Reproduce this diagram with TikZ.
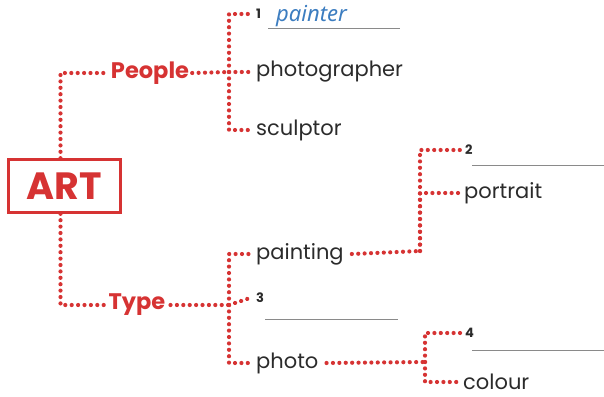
\documentclass[tikz,border=0pt]{standalone}
\usepackage{fontspec}
\usetikzlibrary{decorations.markings}
\setmainfont{Poppins}
\newfontfamily\handfont{Noto Sans}
\definecolor{artred}{HTML}{D63333}
\definecolor{txtgray}{HTML}{2B2B2B}
\definecolor{penblue}{HTML}{3C7DC0}
\definecolor{rulegray}{HTML}{8A8A8A}
\begin{document}
\begin{tikzpicture}[x=1pt,y=-1pt,
  dots/.style={decorate, decoration={markings,
     mark=between positions 0 and 1 step 6.4pt with {\fill[artred] (0,0) circle (2.1pt);}}},
  leaf/.style={anchor=west, inner sep=0pt, text=txtgray, font=\fontsize{21}{24}\selectfont},
  branch/.style={inner sep=0pt, text=artred, font=\fontsize{22.5}{26}\selectfont\bfseries},
  num/.style={anchor=west, inner sep=0pt, text=txtgray, font=\fontsize{13}{15}\selectfont\bfseries},
  blank/.style={draw=rulegray, line width=0.8pt}]
\useasboundingbox (0,0) rectangle (604,396);
% root
\node[draw=artred, line width=2.6pt, minimum width=112pt, minimum height=53pt, inner sep=0pt,
      text=artred, font=\fontsize{38}{40}\selectfont\bfseries] (art) at (64.5,186) {ART};
\node[branch] (people) at (150,73) {People};
\node[branch] (type) at (137,305) {Type};
% people leaves
\node[num] (n1) at (256,14) {1};
\node[anchor=west, inner sep=0pt, text=penblue, font=\handfont\itshape\fontsize{22}{24}\selectfont] (painter) at (276,16) {painter};
\coordinate (b1a) at (268,28);
\coordinate (b1b) at (400,28);
\draw[blank] (b1a) -- (b1b);
\node[leaf] (photographer) at (256,72) {photographer};
\node[leaf] (sculptor) at (256,130) {sculptor};
% type leaves
\node[leaf] (painting) at (256,254) {painting};
\node[num] (n3) at (256,298) {3};
\coordinate (b3a) at (265,319);
\coordinate (b3b) at (398,319);
\draw[blank] (b3a) -- (b3b);
\node[leaf] (photo) at (256,363) {photo};
% painting leaves
\node[num] (n2) at (465,150) {2};
\coordinate (b2a) at (472,165);
\coordinate (b2b) at (604,165);
\draw[blank] (b2a) -- (b2b);
\node[leaf] (portrait) at (464,193) {portrait};
% photo leaves
\node[num] (n4) at (465,333) {4};
\coordinate (b4a) at (472,350);
\coordinate (b4b) at (604,350);
\draw[blank] (b4a) -- (b4b);
\node[leaf] (colour) at (463,382) {colour};
% junction coordinates
\coordinate (jp) at (229,72);
\coordinate (jt) at (229,305);
\coordinate (ja) at (420,251);
\coordinate (jb) at (425,362);
% connectors root
\path[dots] ([xshift=-4pt]art.north) |- ([xshift=-3pt]people.west);
\path[dots] ([xshift=-4pt]art.south) |- ([xshift=-3pt]type.west);
% people
\path[dots] ([xshift=3pt]people.east) -- (jp);
\path[dots] (jp) |- ([xshift=-6pt]n1.west);
\path[dots] (jp) -- ([xshift=-6pt]photographer.west);
\path[dots] (jp) |- ([xshift=-6pt]sculptor.west);
% type
\path[dots] ([xshift=5pt]type.east) -- (jt);
\path[dots] (jt) |- ([xshift=-6pt]painting.west);
\path[dots] (jt) -- ([xshift=-6pt]n3.west);
\path[dots] (jt) |- ([xshift=-6pt]photo.west);
% painting
\path[dots] ([xshift=8pt]painting.east) -- (ja);
\path[dots] (ja) |- ([xshift=-5pt]n2.west);
\path[dots] (ja) |- ([xshift=-4pt]portrait.west);
% photo
\path[dots] ([xshift=8pt]photo.east) -- (jb);
\path[dots] (jb) |- ([xshift=-5pt]n4.west);
\path[dots] (jb) |- ([xshift=-3pt]colour.west);
\end{tikzpicture}
\end{document}
